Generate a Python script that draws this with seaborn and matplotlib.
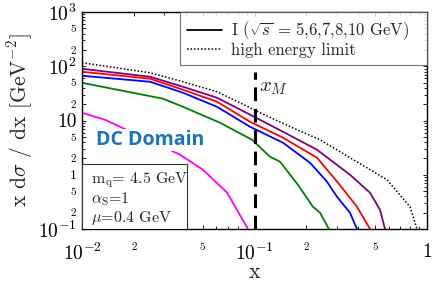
import numpy as np
import pandas as pd
import matplotlib
matplotlib.use("Agg")
import matplotlib.pyplot as plt
import seaborn as sns
from matplotlib.lines import Line2D
from matplotlib.patches import Rectangle
from matplotlib.ticker import FixedLocator

# ---- data ----
x_green = [0.01, 0.0295, 0.0385, 0.0631, 0.0967, 0.123, 0.1406, 0.1788, 0.218, 0.2398, 0.270]
y_green = [49.6, 25.2, 17.9, 9.09, 4.42, 2.15, 1.74, 0.65, 0.257, 0.20, 0.10]

x_blue = [0.01, 0.0248, 0.0385, 0.0606, 0.0942, 0.1463, 0.2099, 0.2633, 0.3008, 0.3578, 0.3928]
y_blue = [66.8, 51.8, 32.5, 17.9, 7.67, 3.89, 1.66, 0.743, 0.393, 0.199, 0.10]

x_red = [0.01, 0.0248, 0.0385, 0.0606, 0.0942, 0.1463, 0.2303, 0.305, 0.3928, 0.4673]
y_red = [79.2, 58.9, 36.9, 22.2, 9.48, 4.81, 2.06, 0.712, 0.257, 0.10]

x_purple = [0.01, 0.0248, 0.0385, 0.0606, 0.0942, 0.1463, 0.2303, 0.3578, 0.4673, 0.534, 0.5708]
y_purple = [89.9, 64.0, 41.9, 26.3, 12.8, 6.20, 2.89, 1.0, 0.466, 0.226, 0.10]

x_magenta = [0.01, 0.0136, 0.037, 0.0502, 0.0694, 0.0916]
y_magenta = [13.9, 10.3, 2.34, 1.24, 0.466, 0.10]

x_limit = [0.01, 0.0248, 0.0385, 0.0606, 0.0942, 0.1076, 0.1764, 0.2398, 0.3578, 0.5862, 0.7966, 0.875]
y_limit = [116, 75.9, 51.8, 33.9, 17.2, 13.9, 6.75, 4.42, 2.06, 0.809, 0.257, 0.10]

x_M = 0.1
x_M_top = 80

yticks_vals = [0.1, 0.2, 0.5, 1, 2, 5, 10, 20, 50, 100, 200, 500, 1000]
yticks_labels = [r'$10^{-1}$', '2', '5', '1', '2', '5', '10', '2', '5',
                 r'$10^{2}$', '2', '5', r'$10^{3}$']
xticks_vals = [0.01, 0.02, 0.05, 0.1, 0.2, 0.5, 1]
xticks_labels = [r'$10^{-2}$', '2', '5', r'$10^{-1}$', '2', '5', '1']
big_y = {0.1, 10, 100, 1000}
mid_y = {1}
big_x = {0.01, 0.1, 1}

# ---- style ----
sns.set_style("ticks")
plt.rcParams['font.family'] = ['cmr10', 'DejaVu Serif']
plt.rcParams['mathtext.fontset'] = 'cm'
plt.rcParams['axes.unicode_minus'] = False

fig = plt.figure(figsize=(4.36, 2.87), dpi=100)
ax = fig.add_axes([82/436, 1-229/287, 345/436, 217/287])

curves = [
    (x_green, y_green, '#008000'),
    (x_blue, y_blue, '#0000ff'),
    (x_red, y_red, '#ff0000'),
    (x_purple, y_purple, '#800080'),
    (x_magenta, y_magenta, '#ff00ff'),
]
for xs, ys, c in curves:
    df = pd.DataFrame({'x': xs, 'y': ys})
    sns.lineplot(data=df, x='x', y='y', ax=ax, color=c, lw=1.3,
                 sort=False, estimator=None)
dfl = pd.DataFrame({'x': x_limit, 'y': y_limit})
sns.lineplot(data=dfl, x='x', y='y', ax=ax, color='black', lw=1.1,
             linestyle=(0, (1, 1.3)), sort=False, estimator=None)

ax.plot([x_M, x_M], [0.1, x_M_top], color='black', lw=2.2,
        dashes=(4.5, 2.5), zorder=5)

ax.set_xscale('log')
ax.set_yscale('log')
ax.set_xlim(0.01, 1)
ax.set_ylim(0.1, 1000)

ax.set_yticks(yticks_vals)
ax.set_yticklabels(yticks_labels)
ax.yaxis.set_minor_locator(FixedLocator(
    [v * m for v in [0.1, 1, 10, 100] for m in range(2, 10)]))
ax.set_xticks(xticks_vals)
ax.set_xticklabels(xticks_labels)
ax.xaxis.set_minor_locator(FixedLocator(
    [v * m for v in [0.01, 0.1] for m in range(2, 10)]))

for lab, v in zip(ax.get_yticklabels(), yticks_vals):
    lab.set_fontsize(14 if v in big_y else (10 if v in mid_y else 8))
for lab, v in zip(ax.get_xticklabels(), xticks_vals):
    lab.set_fontsize(14 if v in big_x else 8)

ax.tick_params(which='both', direction='in', top=True, right=True,
               width=0.6, colors='black')
ax.tick_params(which='major', length=3)
ax.tick_params(which='minor', length=2)
ax.tick_params(axis='x', pad=10)
ax.tick_params(axis='y', pad=4)
for s in ax.spines.values():
    s.set_linewidth(1.0)
    s.set_color('black')

ax.set_xlabel('x', fontsize=16, labelpad=-1)
ax.set_ylabel(r'x d$\sigma$ / dx [GeV$^{-2}$]', fontsize=15.5, labelpad=2)

# legend
handles = [Line2D([], [], color='black', lw=1.3),
           Line2D([], [], color='black', lw=1.1, linestyle=(0, (1, 1.3)))]
labels = [r'I ($\sqrt{s}$ = 5,6,7,8,10 GeV)', 'high energy limit']
leg = ax.legend(handles, labels, loc='upper left',
                bbox_to_anchor=(0.284, 0.747, 0.716, 0.253), mode='expand',
                fontsize=12, frameon=True, fancybox=False, edgecolor='#555555',
                borderaxespad=0, handlelength=2.1, handletextpad=0.5,
                labelspacing=0.0, borderpad=0.45)
leg.get_frame().set_linewidth(0.8)
leg.set_zorder(10)

ax.text(0.513, 0.65, r'$x_M$', transform=ax.transAxes, fontsize=15,
        ha='left', va='center')

ax.text(0.04, 0.41, 'DC Domain', transform=ax.transAxes, fontsize=14,
        family='Open Sans', fontweight='bold', color='#1a72c2',
        ha='left', va='center', zorder=6,
        bbox=dict(facecolor='white', edgecolor='none', pad=1))

ax.add_patch(Rectangle((0, 0), 0.304, 0.30, transform=ax.transAxes,
                       facecolor='white', edgecolor='#333333', lw=0.8, zorder=7))
params = [r'm$_\mathrm{q}$= 4.5 GeV', r'$\alpha_\mathrm{S}$=1', r'$\mu$=0.4 GeV']
for i, t in enumerate(params):
    ax.text(0.027, 0.225 - i * 0.087, t, transform=ax.transAxes,
            fontsize=11.5, ha='left', va='center', zorder=8)

fig.savefig('out.png', dpi=100)
